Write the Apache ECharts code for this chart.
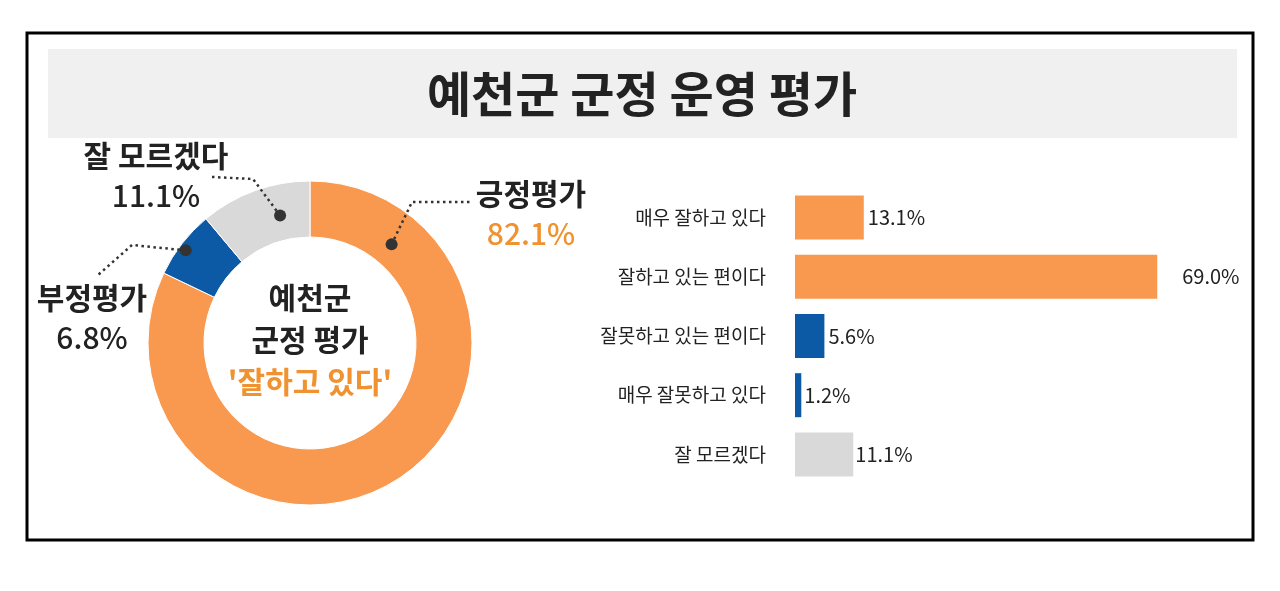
<!DOCTYPE html>
<html>
<head>
<meta charset="utf-8">
<script src="https://cdn.jsdelivr.net/npm/echarts@6/dist/echarts.min.js"></script>
<style>
html, body { margin: 0; padding: 0; background: #fff; }
#chart { width: 1280px; height: 591px; }
</style>
</head>
<body>
<div id="chart"></div>
<script>
var titleText = '예천군 군정 운영 평가';
var centerLines = ['예천군', '군정 평가', "'잘하고 있다'"];
var pieNames = ['긍정평가', '부정평가', '잘 모르겠다'];
var pieValues = [82.1, 6.8, 11.1];
var barCategories = ['매우 잘하고 있다', '잘하고 있는 편이다', '잘못하고 있는 편이다', '매우 잘못하고 있다', '잘 모르겠다'];
var barValues = [13.1, 69.0, 5.6, 1.2, 11.1];

var ORANGE = '#f8994f', BLUE = '#0c5aa6', GRAY = '#d9d9d9', INK = '#222';
var pieColors = [ORANGE, BLUE, GRAY];
var barColors = [ORANGE, ORANGE, BLUE, BLUE, GRAY];
var FONT = '"Noto Sans CJK KR", "Noto Sans", sans-serif';

// 도넛 라벨 배치 (라벨 중심, 점의 각도/반지름, 지시선 꺾임점)
var pieCenter = [310, 343];
var pieLabelPos = [[531, 214], [92, 318], [156, 176]];
var dotPolar = [[39.6, 128], [306.7, 155], [346.8, 131]];
var leaderPts = [[[412, 202], [470, 202]], [[132, 245], [98, 275]], [[253, 179], [212, 177]]];
var barLabelDist = [4, 25, 4, 3, 2];

function dotXY(i) {
    var a = dotPolar[i][0] * Math.PI / 180, r = dotPolar[i][1];
    return [pieCenter[0] + r * Math.sin(a), pieCenter[1] - r * Math.cos(a)];
}

var ech = echarts.init(document.getElementById('chart'));

var graphics = [
    {type: 'rect', shape: {x: 27, y: 33, width: 1226, height: 507}, style: {fill: 'none', stroke: '#000', lineWidth: 3}},
    {type: 'rect', shape: {x: 48, y: 49, width: 1189, height: 89}, style: {fill: '#f0f0f0'}},
    {type: 'text', x: 642, y: 94, style: {
        text: titleText, align: 'center', verticalAlign: 'middle',
        fontSize: 48, fontWeight: 'bold', fontFamily: FONT, fill: INK
    }},
    {type: 'text', x: pieCenter[0], y: 340, z: 10, style: {
        text: '{a|' + centerLines[0] + '}\n{a|' + centerLines[1] + '}\n{o|' + centerLines[2] + '}',
        align: 'center', verticalAlign: 'middle',
        rich: {
            a: {fontSize: 30, lineHeight: 42, fontWeight: 'bold', fontFamily: FONT, fill: INK},
            o: {fontSize: 30, lineHeight: 42, fontWeight: 'bold', fontFamily: FONT, fill: '#f0922f'}
        }
    }}
];
// 지시선과 점
pieValues.forEach(function (v, i) {
    var p = dotXY(i);
    graphics.push({
        type: 'polyline', z: 100,
        shape: {points: [p].concat(leaderPts[i])},
        style: {fill: null, stroke: '#333', lineWidth: 2.5, lineDash: [2.5, 3.5]}
    });
    graphics.push({type: 'circle', z: 101, shape: {cx: p[0], cy: p[1], r: 6}, style: {fill: '#333'}});
});

var option = {
    animation: false,
    graphic: graphics,
    grid: {left: 795, right: 65, top: 188, bottom: 107},
    xAxis: {type: 'value', min: 0, max: 80, show: false},
    yAxis: {
        type: 'category', data: barCategories, inverse: true,
        axisLine: {show: false}, axisTick: {show: false}, splitLine: {show: false},
        axisLabel: {fontSize: 19, color: INK, margin: 29, fontFamily: FONT}
    },
    series: [
        {
            type: 'pie',
            center: pieCenter,
            radius: [106, 162],
            startAngle: 90,
            clockwise: true,
            avoidLabelOverlap: false,
            silent: true,
            itemStyle: {borderColor: '#fff', borderWidth: 1},
            data: pieNames.map(function (n, i) {
                return {name: n, value: pieValues[i], itemStyle: {color: pieColors[i]}};
            }),
            label: {
                show: true,
                position: 'outside',
                align: 'center',
                formatter: function (p) {
                    return '{n|' + p.name + '}\n{' + (p.dataIndex === 0 ? 'o' : 'v') + '|' + p.value.toFixed(1) + '%}';
                },
                rich: {
                    n: {fontSize: 30, lineHeight: 40, fontWeight: 'bold', color: INK, fontFamily: FONT},
                    v: {fontSize: 30, lineHeight: 40, fontWeight: 500, color: INK, fontFamily: FONT},
                    o: {fontSize: 30, lineHeight: 40, fontWeight: 500, color: '#f0922f', fontFamily: FONT}
                }
            },
            labelLine: {show: false},
            labelLayout: function (p) {
                var i = p.dataIndex;
                return {x: pieLabelPos[i][0], y: pieLabelPos[i][1], align: 'center', verticalAlign: 'middle'};
            }
        },
        {
            type: 'bar',
            barWidth: 44,
            silent: true,
            data: barValues.map(function (v, i) {
                return {value: v, itemStyle: {color: barColors[i]}, label: {distance: barLabelDist[i]}};
            }),
            label: {
                show: true, position: 'right', fontSize: 20, color: INK, fontFamily: FONT,
                formatter: function (p) { return p.value.toFixed(1) + '%'; }
            }
        }
    ]
};
ech.setOption(option);
</script>
</body>
</html>
